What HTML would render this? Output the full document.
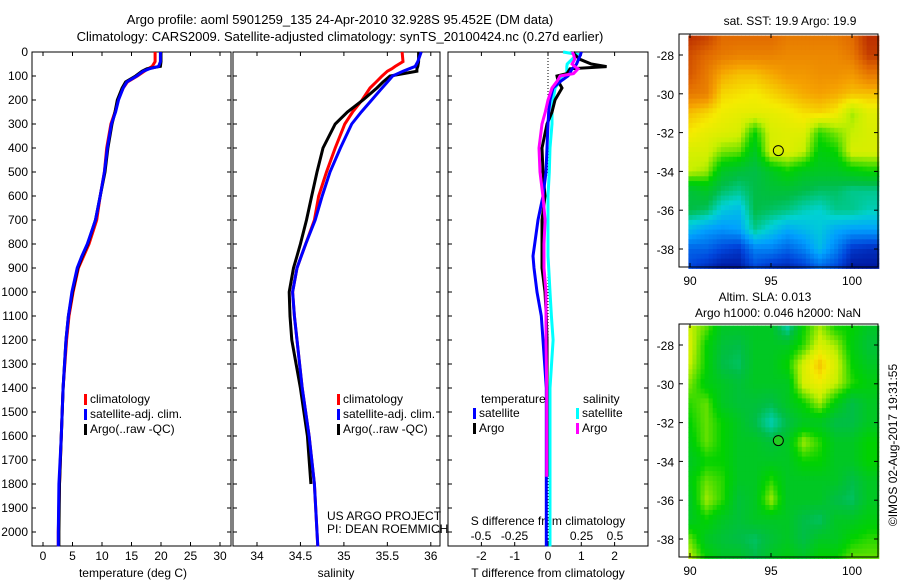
<!DOCTYPE html>
<html><head><meta charset="utf-8"><style>
body{margin:0;background:#fff}
svg{display:block;font-family:"Liberation Sans",sans-serif}
text{font-size:12px;fill:#000}
</style></head><body>
<svg id="fig" width="900" height="580" viewBox="0 0 900 580">
<text x="340" y="24" text-anchor="middle" style="font-size:13px">Argo profile: aoml 5901259_135 24-Apr-2010 32.928S 95.452E (DM data)</text>
<text x="340" y="41" text-anchor="middle" style="font-size:13px">Climatology: CARS2009. Satellite-adjusted climatology: synTS_20100424.nc (0.27d earlier)</text>
<g id="panels"></g>
</svg>
<script>
const depths=[0,40,60,70,80,100,125,150,200,250,300,400,500,600,700,800,850,900,1000,1100,1200,1400,1600,1800,2000,2060];
const tClim=[19.0,19.0,18.5,17.8,17.2,16.0,14.3,13.6,12.7,12.2,11.5,10.8,10.4,9.7,9.1,7.8,6.9,6.0,5.1,4.4,4.0,3.4,3.1,2.8,2.6,2.6];
const tSat=[19.9,19.9,19.6,18.0,17.0,15.9,14.2,13.6,12.8,12.3,11.6,10.9,10.4,9.7,8.9,7.5,6.6,5.8,4.9,4.3,3.9,3.4,3.1,2.7,2.6,2.6];
const tArgo=[20.0,20.0,19.9,17.6,16.8,15.7,14.0,13.4,12.6,12.2,11.7,11.0,10.5,9.7,8.9,7.6,6.7,5.9,5.0,4.3,3.9,3.4,3.1,2.8,2.7,2.7];
const sClim=[35.67,35.68,35.59,35.55,35.5,35.44,35.37,35.3,35.21,35.1,35.01,34.9,34.8,34.71,34.66,34.56,34.51,34.46,34.41,34.43,34.46,34.52,34.6,34.66,34.69,34.7];
const sSat=[35.89,35.85,35.82,35.75,35.68,35.56,35.5,35.44,35.32,35.2,35.09,34.96,34.84,34.75,34.67,34.56,34.51,34.46,34.41,34.43,34.46,34.52,34.6,34.66,34.69,34.7];
const sArgo=[35.86,35.86,35.85,35.84,35.84,35.53,35.45,35.38,35.22,35.04,34.9,34.76,34.69,34.63,34.57,34.5,34.46,34.42,34.37,34.38,34.4,34.5,34.58,34.62,null,null];
const dDepths=[0,10,30,50,61,70,90,100,120,150,200,250,300,400,500,600,700,800,850,900,1000,1100,1200,1400,1600,1770,2000,2060];
const dTSat=[1.0,0.98,0.92,0.86,0.8,0.72,0.65,0.6,0.4,0.15,0.06,0.02,0,-0.03,-0.06,-0.15,-0.3,-0.4,-0.45,-0.42,-0.33,-0.2,-0.15,-0.05,-0.05,-0.05,-0.05,-0.05];
const dTArgo=[0.75,0.8,0.95,1.3,1.76,0.66,0.57,0.27,0.3,0.42,0.21,0.12,-0.03,-0.18,-0.15,-0.09,-0.18,-0.18,-0.18,-0.18,-0.09,-0.05,-0.03,-0.03,-0.03,-0.03,null,null];
const dSSat=[0.113,0.218,0.18,0.143,0.14,0.14,0.14,0.105,0.09,0.053,0.038,0.03,0.03,0.015,0.01,0,0,0,0,0.005,0.015,0.025,0.038,0.015,0.015,0.015,0.015,0.015];
const dSArgo=[0.18,0.19,0.2,0.18,0.2,0.225,0.19,0.09,0.07,0.03,0,-0.02,-0.045,-0.067,-0.06,-0.038,-0.022,-0.03,-0.03,-0.03,-0.015,-0.015,-0.015,-0.01,-0.01,-0.01,null,null];
const mapLons=[90,91,92,93,94,95,96,97,98,99,100,101];
const mapLats=[-27,-28,-29,-30,-31,-32,-33,-34,-35,-36,-37,-38,-39];
const sstGrid=[
[0.97,0.95,0.9,0.9,0.9,0.9,0.88,0.88,0.88,0.88,0.9,0.97],
[0.93,0.9,0.88,0.87,0.87,0.87,0.86,0.86,0.86,0.86,0.88,0.95],
[0.92,0.88,0.82,0.8,0.8,0.82,0.84,0.84,0.85,0.85,0.84,0.88],
[0.88,0.87,0.78,0.77,0.76,0.78,0.8,0.82,0.83,0.82,0.8,0.8],
[0.8,0.78,0.75,0.74,0.74,0.74,0.75,0.77,0.78,0.76,0.68,0.73],
[0.76,0.74,0.73,0.72,0.6,0.72,0.73,0.73,0.62,0.66,0.7,0.72],
[0.72,0.72,0.66,0.65,0.55,0.72,0.73,0.7,0.58,0.6,0.72,0.72],
[0.7,0.68,0.55,0.52,0.5,0.55,0.6,0.56,0.55,0.55,0.58,0.6],
[0.52,0.55,0.48,0.45,0.5,0.52,0.52,0.5,0.48,0.48,0.45,0.45],
[0.5,0.48,0.38,0.35,0.5,0.48,0.46,0.42,0.4,0.45,0.45,0.42],
[0.35,0.3,0.28,0.3,0.45,0.38,0.32,0.35,0.38,0.32,0.3,0.3],
[0.2,0.2,0.15,0.12,0.25,0.25,0.2,0.25,0.35,0.25,0.12,0.1],
[0.15,0.1,0.05,0.05,0.15,0.1,0.08,0.12,0.2,0.15,0.05,0.05]];
const slaGrid=[
[0.7,0.65,0.55,0.55,0.55,0.55,0.42,0.6,0.68,0.6,0.6,0.55],
[0.72,0.6,0.52,0.5,0.55,0.55,0.55,0.62,0.72,0.68,0.58,0.52],
[0.7,0.6,0.5,0.48,0.55,0.55,0.6,0.72,0.8,0.72,0.6,0.55],
[0.66,0.58,0.55,0.52,0.55,0.55,0.55,0.72,0.75,0.7,0.62,0.58],
[0.62,0.65,0.55,0.52,0.52,0.5,0.55,0.6,0.68,0.58,0.5,0.55],
[0.6,0.65,0.6,0.55,0.5,0.42,0.5,0.55,0.55,0.5,0.5,0.55],
[0.58,0.65,0.6,0.55,0.55,0.52,0.55,0.68,0.62,0.55,0.55,0.6],
[0.55,0.6,0.6,0.55,0.55,0.55,0.55,0.6,0.6,0.55,0.55,0.6],
[0.58,0.65,0.62,0.55,0.55,0.62,0.55,0.55,0.55,0.55,0.5,0.55],
[0.55,0.68,0.62,0.52,0.55,0.68,0.55,0.55,0.55,0.5,0.48,0.55],
[0.55,0.6,0.55,0.52,0.55,0.55,0.55,0.5,0.48,0.55,0.55,0.58],
[0.65,0.55,0.52,0.5,0.48,0.52,0.55,0.5,0.55,0.55,0.6,0.62],
[0.7,0.6,0.55,0.55,0.5,0.55,0.58,0.55,0.6,0.6,0.65,0.65]];
const floatLon=95.452, floatLat=-32.928;

const NS='http://www.w3.org/2000/svg';
const root=document.getElementById('panels');
function el(tag,attrs,parent){const e=document.createElementNS(NS,tag);for(const k in attrs)e.setAttribute(k,attrs[k]);(parent||root).appendChild(e);return e;}
function txt(x,y,s,anchor,parent){const t=el('text',{x:x,y:y,'text-anchor':anchor||'start'},parent);t.textContent=s;return t;}
const Y0=52,YB=546;
const yD=d=>Y0+d*0.24;
const xT=v=>43+v*5.9;
const xS=v=>257+(v-34)*86.9;
const xDT=v=>548+v*33.3;
const xDS=v=>548+v*134;

function frame(x0,x1,name){
  const g=el('g',{});
  
  
  el('rect',{x:x0,y:Y0,width:x1-x0,height:YB-Y0,fill:'#fff',stroke:'#000','stroke-width':1},g);
  for(let d=0;d<=2000;d+=100){const y=yD(d);el('line',{x1:x0,y1:y,x2:x0+4,y2:y,stroke:'#000'},g);el('line',{x1:x1-4,y1:y,x2:x1,y2:y,stroke:'#000'},g);}
  return g;
}
function line(xs,vals,dep,color,fx,name,parent){
  let pts=[];
  for(let i=0;i<vals.length;i++){if(vals[i]===null)continue;pts.push(fx(vals[i]).toFixed(1)+','+yD(dep[i]).toFixed(1));}
  const p=el('polyline',{points:pts.join(' '),fill:'none',stroke:color,'stroke-width':3},parent);
  
  
}
function legend(x,y,color,label,parent){
  el('rect',{x:x,y:y-9,width:3,height:11,fill:color},parent);
  txt(x+6,y,label,'start',parent);
}
// temperature panel
const gT=frame(32,231,'temperature-panel');
for(let v=0;v<=30;v+=5){const x=xT(v);el('line',{x1:x,y1:Y0,x2:x,y2:Y0+4,stroke:'#000'},gT);el('line',{x1:x,y1:YB-4,x2:x,y2:YB,stroke:'#000'},gT);txt(x,560,String(v),'middle',gT);}
for(let d=0;d<=2000;d+=100)txt(28,yD(d)+4,String(d),'end',gT);
txt(133,577,'temperature (deg C)','middle',gT);
line(0,tClim,depths,'#f00',xT,'temp-climatology-line',gT);
line(0,tArgo,depths,'#000',xT,'temp-argo-line',gT);
line(0,tSat,depths,'#00f',xT,'temp-satellite-line',gT);
legend(84,403,'#f00','climatology',gT);legend(84,418,'#00f','satellite-adj. clim.',gT);legend(84,433,'#000','Argo(..raw -QC)',gT);
// salinity panel
const gS=frame(233,440,'salinity-panel');
[34,34.5,35,35.5,36].forEach(v=>{const x=xS(v);el('line',{x1:x,y1:Y0,x2:x,y2:Y0+4,stroke:'#000'},gS);el('line',{x1:x,y1:YB-4,x2:x,y2:YB,stroke:'#000'},gS);txt(x,560,String(v),'middle',gS);});
txt(336,577,'salinity','middle',gS);
line(0,sClim,depths,'#f00',xS,'sal-climatology-line',gS);
line(0,sArgo,depths,'#000',xS,'sal-argo-line',gS);
line(0,sSat,depths,'#00f',xS,'sal-satellite-line',gS);
legend(337,403,'#f00','climatology',gS);legend(337,418,'#00f','satellite-adj. clim.',gS);legend(337,433,'#000','Argo(..raw -QC)',gS);
txt(327,520,'US ARGO PROJECT','start',gS);txt(327,533,'PI: DEAN ROEMMICH','start',gS);
// difference panel
const gD=frame(448,648,'difference-panel');
[-2,-1,0,1,2].forEach(v=>{const x=xDT(v);el('line',{x1:x,y1:Y0,x2:x,y2:Y0+4,stroke:'#000'},gD);el('line',{x1:x,y1:YB-4,x2:x,y2:YB,stroke:'#000'},gD);txt(x,560,String(v),'middle',gD);});
[-0.5,-0.25,0,0.25,0.5].forEach(v=>txt(xDS(v),540,String(v).replace('0.','.').replace('-.','-0.').replace(/^\./,'0.'),'middle',gD));
txt(548,525,'S difference from climatology','middle',gD);
txt(548,577,'T difference from climatology','middle',gD);
el('line',{x1:548,y1:Y0,x2:548,y2:YB,stroke:'#000','stroke-dasharray':'1,2'},gD);
line(0,dSSat,dDepths,'#0ff',xDS,'sal-diff-satellite-line',gD);
line(0,dTArgo,dDepths,'#000',xDT,'temp-diff-argo-line',gD);
line(0,dTSat,dDepths,'#00f',xDT,'temp-diff-satellite-line',gD);
line(0,dSArgo,dDepths,'#f0f',xDS,'sal-diff-argo-line',gD);
txt(481,403,'temperature','start',gD);txt(583,403,'salinity','start',gD);
legend(473,417,'#00f','satellite',gD);legend(473,432,'#000','Argo',gD);
legend(576,417,'#0ff','satellite',gD);legend(576,432,'#f0f','Argo',gD);
// maps
const stops=[[0,[0,0,130]],[0.15,[0,70,220]],[0.3,[0,160,255]],[0.4,[0,210,210]],[0.5,[0,190,70]],[0.6,[0,210,0]],[0.7,[200,240,0]],[0.76,[245,235,0]],[0.83,[245,160,0]],[0.9,[225,105,0]],[1,[170,20,0]]];
function cmap(v){v=Math.max(0,Math.min(1,v));for(let i=1;i<stops.length;i++){if(v<=stops[i][0]){const a=stops[i-1],b=stops[i],t=(v-a[0])/(b[0]-a[0]);return 'rgb('+a[1].map((c,k)=>Math.round(c+(b[1][k]-c)*t)).join(',')+')';}}return 'rgb(170,20,0)';}
function interp(grid,lon,lat){
  let fi=(lon-mapLons[0]),fj=(mapLats[0]-lat);
  fi=Math.max(0,Math.min(mapLons.length-1.001,fi));fj=Math.max(0,Math.min(mapLats.length-1.001,fj));
  const i=Math.floor(fi),j=Math.floor(fj),a=fi-i,b=fj-j;
  return grid[j][i]*(1-a)*(1-b)+grid[j][i+1]*a*(1-b)+grid[j+1][i]*(1-a)*b+grid[j+1][i+1]*a*b;
}
function drawMap(top,grid,name,dotFill){
  const bottom=top+233;
  const g=el('g',{});
  
  
  const mx=lon=>690+(lon-90)*16.2;
  const my=lat=>top+21+(-28-lat)*19.4;
  el('rect',{x:679,y:top,width:199,height:233,fill:'#fff',stroke:'#000'},g);
  const step=0.25;
  for(let lat=-27;lat>-38.95;lat-=step){for(let lon=89.9;lon<101.6;lon+=step){
    const c=el('rect',{x:mx(lon).toFixed(1),y:Math.max(top,my(lat)).toFixed(1),width:(16.2*step+0.6).toFixed(1),height:(19.4*step+0.6).toFixed(1),fill:cmap(interp(grid,lon+step/2,lat-step/2))},g);
  }}
  el('rect',{x:679,y:top,width:199,height:233,fill:'none',stroke:'#000'},g);
  [-28,-30,-32,-34,-36,-38].forEach(l=>{const y=my(l);el('line',{x1:679,y1:y,x2:683,y2:y,stroke:'#000'},g);el('line',{x1:874,y1:y,x2:878,y2:y,stroke:'#000'},g);txt(674,y+5,String(l),'end',g);});
  [90,95,100].forEach(l=>{const x=mx(l);el('line',{x1:x,y1:top,x2:x,y2:top+4,stroke:'#000'},g);el('line',{x1:x,y1:bottom-4,x2:x,y2:bottom,stroke:'#000'},g);txt(x,bottom+18,String(l),'middle',g);});
  const c=el('circle',{cx:mx(floatLon),cy:my(floatLat),r:5,fill:dotFill,stroke:'#000'},g);
  
  
}
drawMap(34,sstGrid,'sst-map','none');
drawMap(324,slaGrid,'sla-map','#2c2');
txt(790,25,'sat. SST: 19.9 Argo: 19.9','middle');
txt(765,301,'Altim. SLA: 0.013','middle');
txt(778,317,'Argo h1000: 0.046 h2000: NaN','middle');
const r=txt(0,0,'©IMOS 02-Aug-2017 19:31:55','middle');
r.setAttribute('transform','translate(897,445) rotate(-90)');


</script>
</body></html>
